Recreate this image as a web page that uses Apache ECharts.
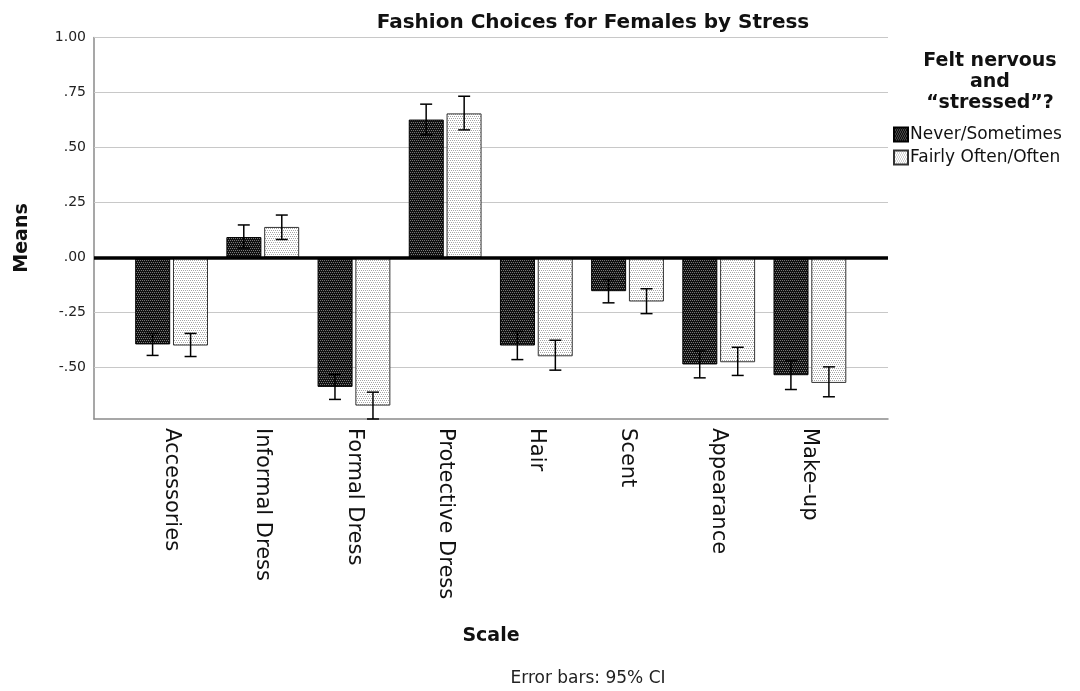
<!DOCTYPE html>
<html>
<head>
<meta charset="utf-8">
<script src="https://cdn.jsdelivr.net/npm/echarts@6/dist/echarts.min.js"></script>
<style>html,body{margin:0;padding:0;background:#fff;}#c{width:1080px;height:691px;}</style>
</head>
<body>
<div id="c"></div>
<script>
const categories = ['Accessories','Informal Dress','Formal Dress','Protective Dress','Hair','Scent','Appearance','Make\u2013up'];
const seriesNames = ['Never/Sometimes','Fairly Often/Often'];
const neverMeans = [-0.395, 0.093, -0.588, 0.627, -0.400, -0.153, -0.486, -0.535];
const neverLow   = [-0.445, 0.043, -0.645, 0.557, -0.464, -0.206, -0.547, -0.600];
const neverHigh  = [-0.345, 0.148, -0.531, 0.697, -0.336, -0.100, -0.425, -0.470];
const oftenMeans = [-0.400, 0.139, -0.673, 0.655, -0.449, -0.200, -0.476, -0.570];
const oftenLow   = [-0.450, 0.082, -0.734, 0.580, -0.512, -0.255, -0.536, -0.633];
const oftenHigh  = [-0.345, 0.193, -0.612, 0.733, -0.376, -0.142, -0.408, -0.497];
const yTicks = [-0.5, -0.25, 0, 0.25, 0.5, 0.75, 1.0];
const yMin = -0.734, yMax = 1.0;

function makePattern(bg, dot) {
  const cv = document.createElement('canvas');
  cv.width = 4; cv.height = 4;
  const ctx = cv.getContext('2d');
  ctx.fillStyle = bg; ctx.fillRect(0,0,4,4);
  ctx.fillStyle = dot;
  ctx.fillRect(0,0,1,1); ctx.fillRect(2,0,1,1);
  ctx.fillRect(1,2,1,1); ctx.fillRect(3,2,1,1);
  return cv;
}
const darkPat = {image: makePattern('#111111', '#7a7a7a'), repeat: 'repeat'};
const lightPat = {image: makePattern('#ffffff', '#a6a6a6'), repeat: 'repeat'};

const errData = [];
for (let i = 0; i < categories.length; i++) {
  errData.push([i, neverLow[i], neverHigh[i], 0]);
  errData.push([i, oftenLow[i], oftenHigh[i], 1]);
}

function fmt(v) {
  let s = Math.abs(v).toFixed(2);
  if (s.startsWith('0')) s = s.slice(1);
  return (v < 0 ? '-' : '') + s;
}

const chart = echarts.init(document.getElementById('c'));
const FONT = 'DejaVu Sans';
chart.setOption({
  animation: false,
  backgroundColor: '#fff',
  textStyle: {fontFamily: FONT},
  title: [
    {text: 'Fashion Choices for Females by Stress', left: 588, top: 8, textAlign: 'center',
     textStyle: {fontFamily: FONT, fontSize: 20, fontWeight: 'bold', color: '#111'}},
    {text: 'Felt nervous\nand\n\u201Cstressed\u201D?', left: 985, top: 46, textAlign: 'center',
     textStyle: {fontFamily: FONT, fontSize: 19, fontWeight: 'bold', color: '#111', lineHeight: 21}}
  ],
  legend: {
    orient: 'vertical', left: 888, top: 121, itemWidth: 14, itemHeight: 14, itemGap: 6,
    icon: 'rect',
    data: seriesNames,
    textStyle: {fontFamily: FONT, fontSize: 17, color: '#111', padding: [0,0,0,-3]}
  },
  grid: [
    {left: 94, right: 192, top: 37.5, bottom: 272},
    {left: 126, right: 224.5, top: 37.5, bottom: 272}
  ],
  xAxis: [
    {gridIndex: 0, type: 'value', min: 0, max: 1, position: 'bottom',
     axisLine: {show: true, onZero: false, lineStyle: {color: '#8a8a8a', width: 1.5}},
     axisTick: {show: false}, axisLabel: {show: false}, splitLine: {show: false}},
    {gridIndex: 1, type: 'category', data: categories, boundaryGap: true,
     axisLine: {show: false}, axisTick: {show: false},
     axisLabel: {rotate: -90, margin: 9, fontFamily: FONT, fontSize: 21, color: '#111', interval: 0}}
  ],
  yAxis: [
    {gridIndex: 0, type: 'value', min: yMin, max: yMax,
     axisLine: {show: true, onZero: false, lineStyle: {color: '#8a8a8a', width: 1.5}},
     axisTick: {show: false},
     splitLine: {show: false},
     axisLabel: {customValues: yTicks, formatter: fmt, fontFamily: FONT, fontSize: 14, color: '#222', margin: 8}},
    {gridIndex: 1, type: 'value', min: yMin, max: yMax, show: false, splitLine: {show: false}}
  ],
  graphic: [
    {type: 'text', x: 22, y: 238, rotation: Math.PI/2, style: {text: 'Means', x: 0, y: 0, font: 'bold 19px "DejaVu Sans"', fill: '#111', textAlign: 'center', textVerticalAlign: 'middle'}},
    {type: 'text', style: {text: 'Scale', x: 491, y: 636, font: 'bold 19px "DejaVu Sans"', fill: '#111', textAlign: 'center', textVerticalAlign: 'middle'}},
    {type: 'text', style: {text: 'Error bars: 95% CI', x: 588, y: 679, font: '17px "DejaVu Sans"', fill: '#222', textAlign: 'center', textVerticalAlign: 'middle'}}
  ],
  series: [
    {type: 'line', xAxisIndex: 0, yAxisIndex: 0, data: [], silent: true, z: 1,
     markLine: {silent: true, symbol: 'none', z: 1, label: {show: false},
       lineStyle: {color: '#c8c8c8', width: 1, type: 'solid'},
       data: yTicks.filter(v => v !== 0).map(v => ({yAxis: v}))}},
    {name: seriesNames[0], type: 'bar', xAxisIndex: 1, yAxisIndex: 1, data: neverMeans,
     barWidth: 35, barGap: '8%', z: 3,
     itemStyle: {color: darkPat, borderColor: '#000', borderWidth: 1}},
    {name: seriesNames[1], type: 'bar', xAxisIndex: 1, yAxisIndex: 1, data: oftenMeans,
     barWidth: 35, barGap: '8%', z: 3,
     itemStyle: {color: lightPat, borderColor: '#333', borderWidth: 1}},
    {type: 'line', xAxisIndex: 0, yAxisIndex: 0, data: [], silent: true, z: 10,
     markLine: {silent: true, symbol: 'none', z: 10, label: {show: false},
       lineStyle: {color: '#000', width: 3.5, type: 'solid'}, data: [{yAxis: 0}]}},
    {type: 'custom', xAxisIndex: 1, yAxisIndex: 1, data: errData, z: 8, clip: false,
     renderItem: function(params, api) {
       const cat = api.value(0), lo = api.value(1), hi = api.value(2), s = api.value(3);
       const off = (s === 0 ? -1 : 1) * 19;
       const pLo = api.coord([cat, lo]);
       const pHi = api.coord([cat, hi]);
       const x = pLo[0] + off;
       const cw = 6;
       const st = {stroke: '#000', lineWidth: 1.5};
       return {type: 'group', children: [
         {type: 'line', shape: {x1: x, y1: pLo[1], x2: x, y2: pHi[1]}, style: st},
         {type: 'line', shape: {x1: x-cw, y1: pLo[1], x2: x+cw, y2: pLo[1]}, style: st},
         {type: 'line', shape: {x1: x-cw, y1: pHi[1], x2: x+cw, y2: pHi[1]}, style: st}
       ]};
     }}
  ]
});
</script>
</body>
</html>
